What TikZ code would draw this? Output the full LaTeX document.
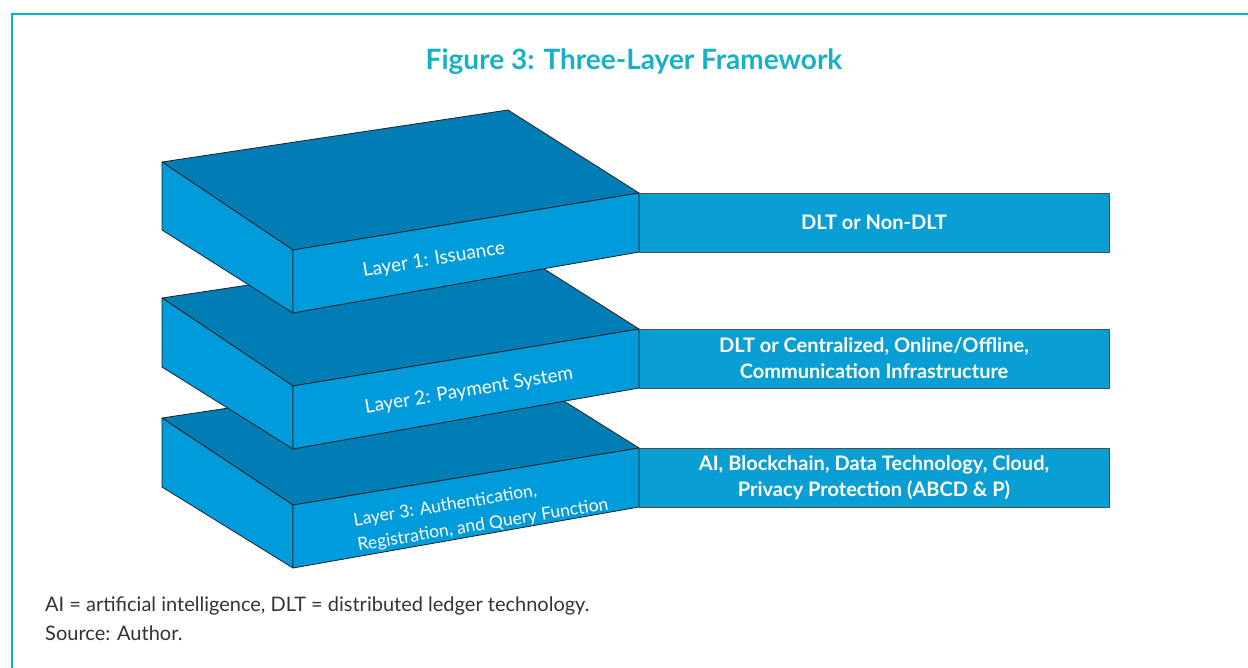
\documentclass[tikz,border=0pt]{standalone}
\usepackage{fontspec}
\setmainfont{Lato}
\usepackage{tikz}

\definecolor{topblue}{HTML}{007DB5}
\definecolor{faceblue}{HTML}{009BDB}
\definecolor{infoblue}{HTML}{0A9FD4}
\definecolor{edgegray}{HTML}{222222}
\definecolor{frameteal}{HTML}{00B6C9}
\definecolor{titleteal}{HTML}{17B1C6}
\definecolor{notegray}{HTML}{333333}

\begin{document}
\begin{tikzpicture}[x=1pt, y=-1pt,
  top face/.style={fill=topblue, draw=edgegray, line width=0.8pt, line join=round},
  side face/.style={fill=faceblue, draw=edgegray, line width=0.8pt, line join=round},
  info box/.style={fill=infoblue, draw=edgegray!80, line width=0.8pt, text=white,
    font=\fontsize{20}{26}\selectfont\bfseries, align=center, inner sep=0pt,
    minimum width=470pt, minimum height=59pt},
  layer label/.style={text=white, font=\fontsize{19}{26}\selectfont, rotate=9.35, inner sep=0pt},
  note/.style={anchor=base west, inner sep=0pt, text=notegray, font=\fontsize{20}{24}\selectfont}]
  \useasboundingbox (0,0) rectangle (1248,668);

  % frame
  \draw[frameteal, line width=2pt] (1248,14) -- (12,14) -- (12,668);

  \node (title) at (634,62) {\fontsize{28}{32}\selectfont\bfseries\color{titleteal}Figure 3: Three-Layer Framework};

  % layer 3
  \coordinate (l3-back) at (508,366);
  \coordinate (l3-left) at (162,418);
  \coordinate (l3-right) at (639,448);
  \coordinate (l3-front) at (293,505);
  \coordinate (l3-left-b) at (162,487);
  \coordinate (l3-front-b) at (293,568);
  \coordinate (l3-right-b) at (639,507);
  \draw[top face] (l3-left) -- (l3-back) -- (l3-right) -- (l3-front) -- cycle;
  \draw[side face] (l3-left) -- (l3-front) -- (l3-front-b) -- (l3-left-b) -- cycle;
  \draw[side face] (l3-front) -- (l3-right) -- (l3-right-b) -- (l3-front-b) -- cycle;
  \node[layer label, align=left, font=\fontsize{17.5}{25}\selectfont] (layer3) at (481,513) {Layer 3: Authentication,\\Registration, and Query Function};
  \node[info box] (info3) at (874,477.5) {AI, Blockchain, Data Technology, Cloud,\\Privacy Protection (ABCD \& P)};

  % layer 2
  \coordinate (l2-back) at (508,246);
  \coordinate (l2-left) at (162,298);
  \coordinate (l2-right) at (639,329);
  \coordinate (l2-front) at (293,386);
  \coordinate (l2-left-b) at (162,367);
  \coordinate (l2-front-b) at (293,449);
  \coordinate (l2-right-b) at (639,388);
  \draw[top face] (l2-left) -- (l2-back) -- (l2-right) -- (l2-front) -- cycle;
  \draw[side face] (l2-left) -- (l2-front) -- (l2-front-b) -- (l2-left-b) -- cycle;
  \draw[side face] (l2-front) -- (l2-right) -- (l2-right-b) -- (l2-front-b) -- cycle;
  \node[layer label] (layer2) at (469,391) {Layer 2: Payment System};
  \node[info box] (info2) at (874,358.5) {DLT or Centralized, Online/Offline,\\Communication Infrastructure};

  % layer 1
  \coordinate (l1-back) at (508,110);
  \coordinate (l1-left) at (162,162);
  \coordinate (l1-right) at (639,193);
  \coordinate (l1-front) at (293,250);
  \coordinate (l1-left-b) at (162,230);
  \coordinate (l1-front-b) at (293,313);
  \coordinate (l1-right-b) at (639,252);
  \draw[top face] (l1-left) -- (l1-back) -- (l1-right) -- (l1-front) -- cycle;
  \draw[side face] (l1-left) -- (l1-front) -- (l1-front-b) -- (l1-left-b) -- cycle;
  \draw[side face] (l1-front) -- (l1-right) -- (l1-right-b) -- (l1-front-b) -- cycle;
  \node[layer label] (layer1) at (434,260) {Layer 1: Issuance};
  \node[info box] (info1) at (874,222.5) {DLT or Non-DLT};

  % notes
  \node[note] (abbrev) at (45,611) {AI = artificial intelligence, DLT = distributed ledger technology.};
  \node[note] (source) at (45,640) {Source: Author.};
\end{tikzpicture}
\end{document}
